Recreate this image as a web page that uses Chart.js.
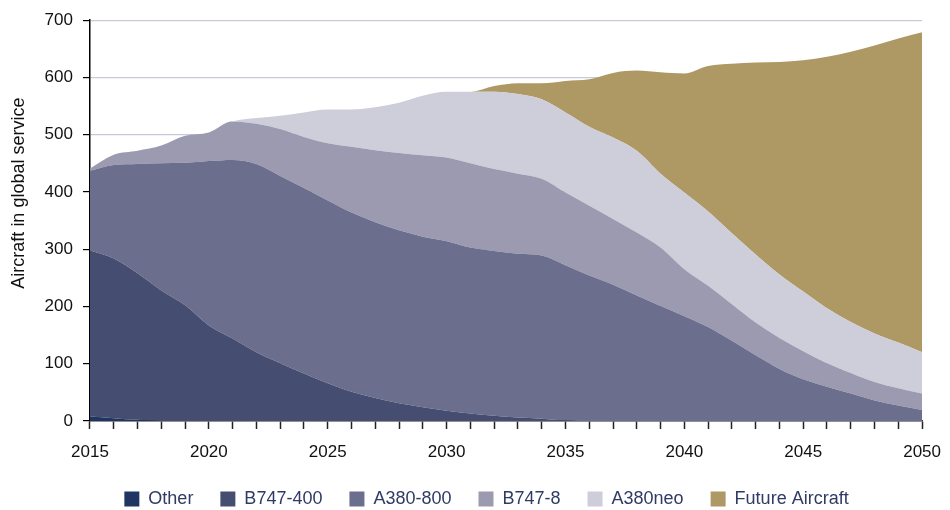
<!DOCTYPE html>
<html>
<head>
<meta charset="utf-8">
<title>Aircraft in global service</title>
<script src="https://cdn.jsdelivr.net/npm/chart.js@4"></script>
<style>
  html, body { margin: 0; padding: 0; background: #fff; }
  #wrap { width: 950px; height: 510px; }
</style>
</head>
<body>
<div id="wrap"><canvas id="fleetChart" width="950" height="510"></canvas></div>
<script>
const years = ["2015","2016","2017","2018","2019","2020","2021","2022","2023","2024",
  "2025","2026","2027","2028","2029","2030","2031","2032","2033","2034",
  "2035","2036","2037","2038","2039","2040","2041","2042","2043","2044",
  "2045","2046","2047","2048","2049","2050"];
const xTickLabels = ["2015","2020","2025","2030","2035","2040","2045","2050"];

const other = [8,5,2,0,0,0,0,0,0,0, 0,0,0,0,0,0,0,0,0,0, 0,0,0,0,0,0,0,0,0,0, 0,0,0,0,0,0];
const b747_400 = [290,279,256,228,202,167,144,120,101,83, 66,51,40,31,24,18,13,9,6,4, 1,0,0,0,0,0,0,0,0,0, 0,0,0,0,0,0];
const a380_800 = [139,163,191,222,249,287,312,329,327,324, 319,313,307,302,298,296,290,288,286,285,
  271,254,238,219,201,183,164,140,115,91, 73,60,48,36,27,19];
const b747_8 = [4,18,23,31,47,50,67,70,82,89, 100,115,126,135,142,146,147,143,140,134,
  127,122,115,110,102,82,72,64,57,54, 49,41,36,32,30,29];
const a380neo = [0,0,0,0,0,0,0,10,23,43, 59,65,75,88,104,115,125,135,139,139,
  140,138,142,143,129,134,130,124,119,111, 104,96,89,85,80,72];
const future = [0,0,0,0,0,0,0,0,0,0, 0,0,0,0,0,0,0,10,19,28,
  55,83,113,140,177,208,254,296,335,371, 404,439,472,503,531,559];

const seriesNames = ["Other","B747-400","A380-800","B747-8","A380neo","Future Aircraft"];
const seriesColors = ["#203561","#454d70","#6b6e8d","#9c9ab0","#cecdda","#ae9965"];
const seriesData = [other, b747_400, a380_800, b747_8, a380neo, future];

const datasets = seriesNames.map((name, i) => ({
  label: name,
  data: seriesData[i],
  backgroundColor: seriesColors[i],
  borderColor: seriesColors[i],
  borderWidth: 0,
  pointRadius: 0,
  fill: i === 0 ? "origin" : "-1",
  tension: 0.3,
  cubicInterpolationMode: "monotone"
}));

const font = "'Liberation Sans', Arial, Helvetica, sans-serif";

// the original legend sits a little right and low compared to chart.js default,
// and the year labels hang below the squeezed x axis box, so don't clip them
const layoutTweaks = {
  id: "layoutTweaks",
  afterLayout(chart) {
    const lg = chart.legend;
    lg.left += 13;
    lg.right += 13;
    lg.top += 8;
    lg.bottom += 8;
    chart.scales.x.bottom += 14;
  }
};

new Chart(document.getElementById("fleetChart"), {
  type: "line",
  data: { labels: years, datasets },
  plugins: [layoutTweaks],
  options: {
    responsive: false,
    animation: false,
    layout: { padding: { top: 10, right: 11, left: 8, bottom: 0 } },
    plugins: {
      tooltip: { enabled: false },
      legend: {
        position: "bottom",
        labels: {
          boxWidth: 15,
          boxHeight: 15,
          padding: 27,
          color: "#2f3b64",
          font: { family: font, size: 18 }
        }
      }
    },
    scales: {
      x: {
        offset: false,
        afterFit: function (scale) { scale.height = 34; },
        grid: {
          drawOnChartArea: false,
          drawTicks: true,
          tickLength: 8,
          tickColor: "#222",
          tickWidth: 1.5
        },
        border: { color: "#333", width: 1.5 },
        ticks: {
          autoSkip: false,
          maxRotation: 0,
          padding: 9,
          color: "#111",
          font: { family: font, size: 17, lineHeight: 1.65 },
          callback: function (value, index) {
            const y = years[index];
            return xTickLabels.includes(y) ? y : "";
          }
        }
      },
      y: {
        stacked: true,
        min: 0,
        max: 700,
        ticks: {
          stepSize: 100,
          padding: 10,
          color: "#111",
          font: { family: font, size: 17 }
        },
        grid: {
          color: "#c9c9dc",
          lineWidth: 1.2,
          tickLength: 7,
          tickColor: "#000"
        },
        border: { color: "#000", width: 1.5 },
        title: {
          display: true,
          text: "           Aircraft in global service",
          color: "#111",
          font: { family: font, size: 18 },
          padding: { top: 0, bottom: 5 }
        }
      }
    }
  }
});
</script>
</body>
</html>
